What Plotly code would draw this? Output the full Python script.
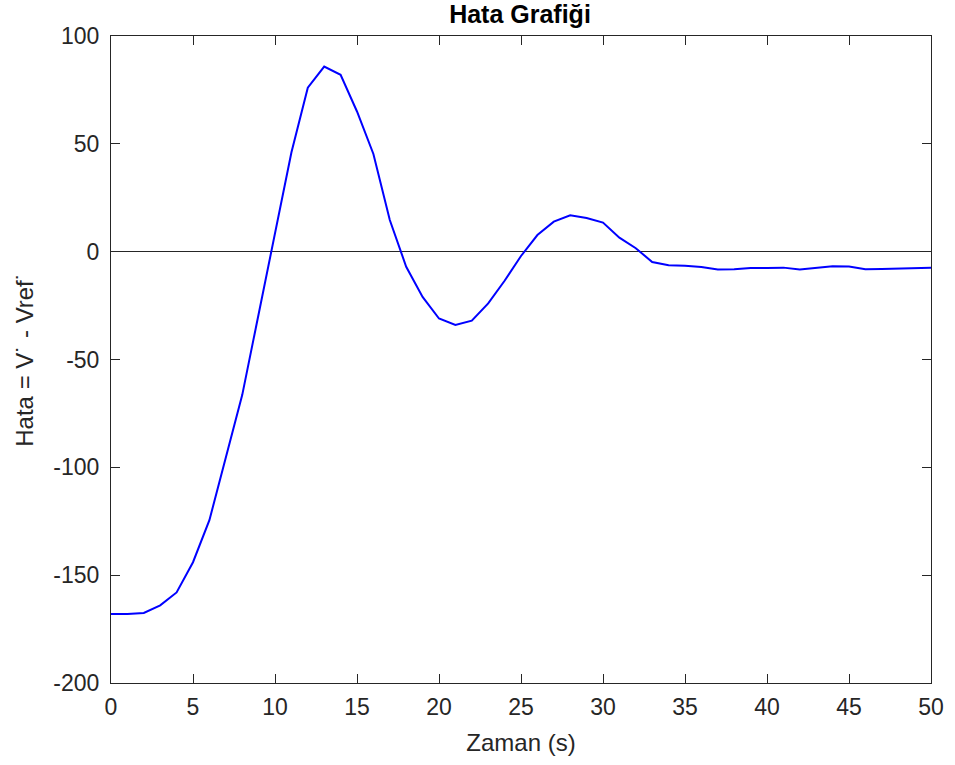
import plotly.graph_objects as go

t = list(range(0, 51))
hata = [-168, -168, -167.5, -164, -158, -144, -124.5, -95, -66.5, -29,
        8, 46, 76, 85.8, 82, 65, 45.3, 14.7, -7, -21,
        -31, -34, -32, -24, -13.5, -2, 7.7, 13.9, 16.9, 15.6,
        13.5, 6.5, 1.6, -4.8, -6.3, -6.5, -7.1, -8.3, -8.2, -7.6,
        -7.6, -7.4, -8.3, -7.4, -6.8, -6.9, -8.2, -8.0, -7.9, -7.7, -7.4]

x_ticks = [0, 5, 10, 15, 20, 25, 30, 35, 40, 45, 50]
x_labels = ["0", "5", "10", "15", "20", "25", "30", "35", "40", "45", "50"]
y_ticks = [-200, -150, -100, -50, 0, 50, 100]
y_labels = ["-200", "-150", "-100", "-50", "0", "50", "100"]

font_family = "Liberation Sans, Arial, sans-serif"
axis_col = "#262626"

fig = go.Figure()
fig.add_trace(go.Scatter(x=t, y=hata, mode="lines",
                         line=dict(color="#0000ff", width=2), showlegend=False))

fig.update_layout(
    width=955, height=765,
    margin=dict(l=111, r=24, t=36, b=82),
    paper_bgcolor="white", plot_bgcolor="white",
    title=dict(text="<b>Hata Grafiği</b>", x=520 / 955, xanchor="center", xref="container",
               y=1 - 14 / 765, yanchor="middle", yref="container",
               font=dict(family=font_family, size=25, color="black")),
    font=dict(family=font_family, color=axis_col),
)
common = dict(showgrid=False, showline=True, linecolor=axis_col, linewidth=1,
              mirror="ticks", ticks="inside", ticklen=9, tickcolor=axis_col,
              tickwidth=1, tickfont=dict(family=font_family, size=23, color=axis_col))
fig.update_xaxes(range=[0, 50], tickvals=x_ticks, ticktext=x_labels, zeroline=False,
                 ticklabelstandoff=3,
                 title=dict(text="Zaman (s)", font=dict(size=24, color=axis_col), standoff=15),
                 **common)
fig.update_yaxes(range=[-200, 100], tickvals=y_ticks, ticktext=y_labels, zeroline=True,
                 zerolinecolor=axis_col, zerolinewidth=1, ticklabelstandoff=6,
                 title=dict(text="Hata = V˙ - Vref˙", font=dict(size=24, color=axis_col), standoff=12),
                 **common)

fig.write_html("out.html", config={"displayModeBar": False},
               post_script="document.body.style.margin='0';")
